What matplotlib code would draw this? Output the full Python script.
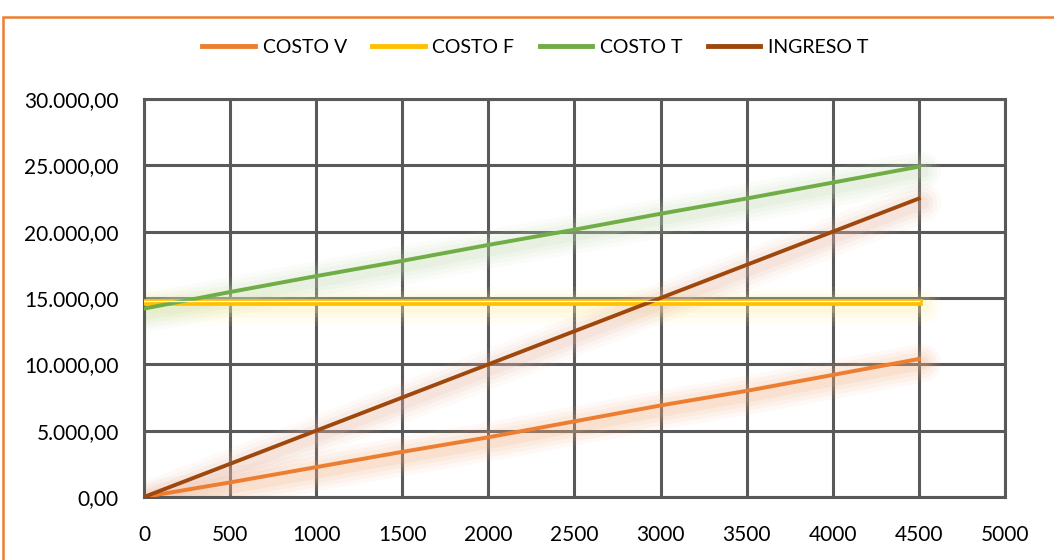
import numpy as np
import matplotlib
matplotlib.use("Agg")
import matplotlib.pyplot as plt
import matplotlib.transforms as mtransforms
from matplotlib.patches import Rectangle
from matplotlib.ticker import FuncFormatter

# data
unidades = [0, 500, 1000, 1500, 2000, 2500, 3000, 3500, 4000, 4500]
costo_v = [0, 1100, 2250, 3400, 4500, 5700, 6900, 8000, 9200, 10400]
costo_f = [14700] * 10
costo_t = [14200, 15450, 16650, 17800, 19000, 20150, 21350, 22500, 23700, 24900]
ingreso_t = [0, 2500, 5000, 7500, 10000, 12500, 15000, 17500, 20000, 22500]

series = [("COSTO V", costo_v, "#ED7D31", "#F4B183"),
          ("COSTO F", costo_f, "#FFC000", "#FFF2A8"),
          ("COSTO T", costo_t, "#70AD47", "#C5E0B4"),
          ("INGRESO T", ingreso_t, "#9E480E", "#E8B9A8")]

plt.rcParams['font.family'] = ['Lato', 'DejaVu Sans']

fig = plt.figure(figsize=(10.54, 5.6), dpi=100)
ax = fig.add_axes([0.1366, 0.1125, 0.8169, 0.7107])

# soft glow behind the lines
glow_tr = mtransforms.offset_copy(ax.transData, fig=fig, x=3, y=-4, units='dots')
for name, vals, col, glow in series:
    for lw, a in [(28, 0.07), (22, 0.09), (16, 0.12), (10, 0.16)]:
        ax.plot(unidades, vals, color=glow, lw=lw, alpha=a, transform=glow_tr,
                solid_capstyle='round', zorder=2)

for name, vals, col, glow in series:
    if name == "COSTO F":
        ax.plot(unidades, vals, color=col, lw=4.8, label=name, zorder=4)
        # white stripe inside the fixed cost line
        wtr = mtransforms.offset_copy(ax.transData, fig=fig, x=0, y=1, units='dots')
        ax.plot(unidades, vals, color="white", lw=0.9, transform=wtr, zorder=5)
    else:
        ax.plot(unidades, vals, color=col, lw=2.8, label=name, zorder=4)

ax.set_xlim(0, 5000)
ax.set_ylim(0, 30000)
ax.set_xticks(np.arange(0, 5001, 500))
ax.set_yticks(np.arange(0, 30001, 5000))
ax.yaxis.set_major_formatter(FuncFormatter(
    lambda v, p: "{:,.2f}".format(v).replace(",", "X").replace(".", ",").replace("X", ".")))
ax.grid(True, color="#595959", lw=2.2, zorder=1)
ax.tick_params(length=0, labelsize=15, colors="#000000")
ax.tick_params(axis="x", pad=20)
ax.tick_params(axis="y", pad=18)
for s in ax.spines.values():
    s.set_color("#595959")
    s.set_linewidth(2.2)

leg = fig.legend(loc="center", bbox_to_anchor=(0.508, 0.916), ncol=4, frameon=False,
                 fontsize=14, handlelength=2.7, columnspacing=1.3, handletextpad=0.4)
for h in leg.get_lines():
    h.set_linewidth(3.5)

# orange frame around the chart area
fig.patches.append(Rectangle((0.003, -0.05), 1.05, 1.02, transform=fig.transFigure,
                             fill=False, edgecolor="#ED7D31", lw=1.8))

fig.savefig("out.png", dpi=100)
